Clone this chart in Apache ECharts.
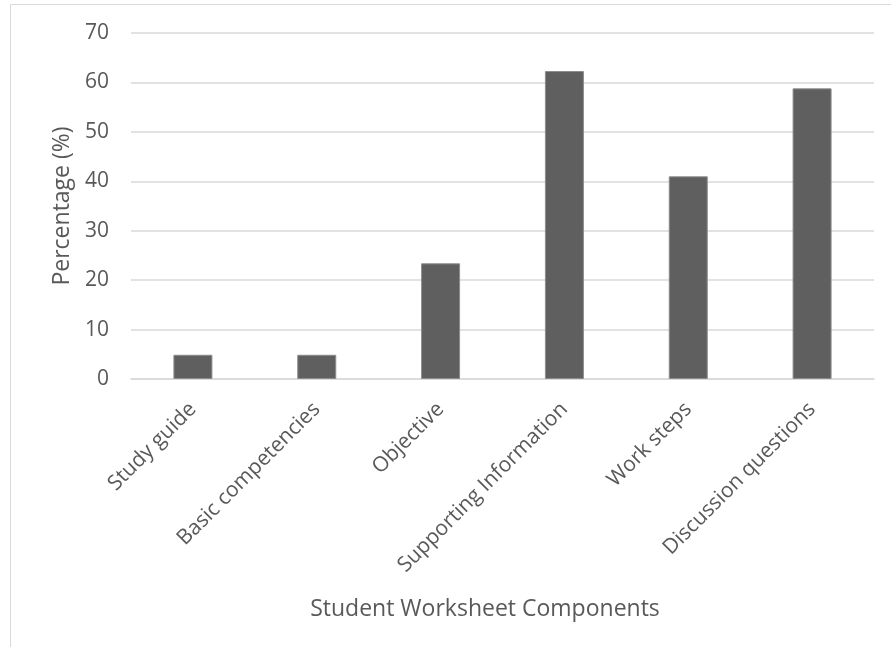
<!DOCTYPE html>
<html>
<head>
<meta charset="utf-8">
<script src="https://cdn.jsdelivr.net/npm/echarts@6/dist/echarts.min.js"></script>
<style>
html,body{margin:0;padding:0;background:#fff;}
#chart{width:891px;height:647px;}
</style>
</head>
<body>
<div id="chart"></div>
<script>
var categories = ["Study guide", "Basic competencies", "Objective", "Supporting Information", "Work steps", "Discussion questions"];
var percentages = [4.9, 4.9, 23.4, 62.3, 41.0, 58.8];
var yTicks = { min: 0, max: 70, interval: 10 };
var xAxisTitle = "Student Worksheet Components";
var yAxisTitle = "Percentage (%)";

var FONT = "'Open Sans', sans-serif";
var TXT = "#595959";
var chart = echarts.init(document.getElementById('chart'), null, { renderer: 'canvas' });
chart.setOption({
  animation: false,
  backgroundColor: '#ffffff',
  graphic: [{
    type: 'rect',
    shape: { x: 10.5, y: 4.5, width: 1000, height: 1000 },
    style: { fill: 'none', stroke: '#d9d9d9', lineWidth: 1 },
    silent: true, z: -10
  }],
  grid: { left: 131, right: 17, top: 33, bottom: 268, containLabel: false },
  xAxis: {
    type: 'category',
    data: categories,
    name: xAxisTitle,
    nameLocation: 'middle',
    nameGap: 219,
    nameTextStyle: { fontFamily: FONT, fontSize: 23, color: TXT, padding: [0, 35, 0, 0] },
    axisLine: { show: true, lineStyle: { color: '#d9d9d9', width: 1.5 } },
    axisTick: { show: false },
    axisLabel: { rotate: 45, margin: 27, fontFamily: FONT, fontSize: 21, color: TXT, interval: 0 }
  },
  yAxis: {
    type: 'value',
    min: yTicks.min, max: yTicks.max, interval: yTicks.interval,
    name: yAxisTitle,
    nameLocation: 'middle',
    nameGap: 55,
    nameTextStyle: { fontFamily: FONT, fontSize: 23, color: TXT },
    axisLine: { show: false },
    axisTick: { show: false },
    axisLabel: { margin: 22, fontFamily: FONT, fontSize: 21, color: TXT },
    splitLine: { lineStyle: { color: '#d9d9d9', width: 1.5 } }
  },
  series: [{
    type: 'bar',
    data: percentages,
    barWidth: 39,
    itemStyle: { color: '#5f5f5f', borderColor: '#8c8c8c', borderWidth: 1 }
  }]
});
</script>
</body>
</html>
